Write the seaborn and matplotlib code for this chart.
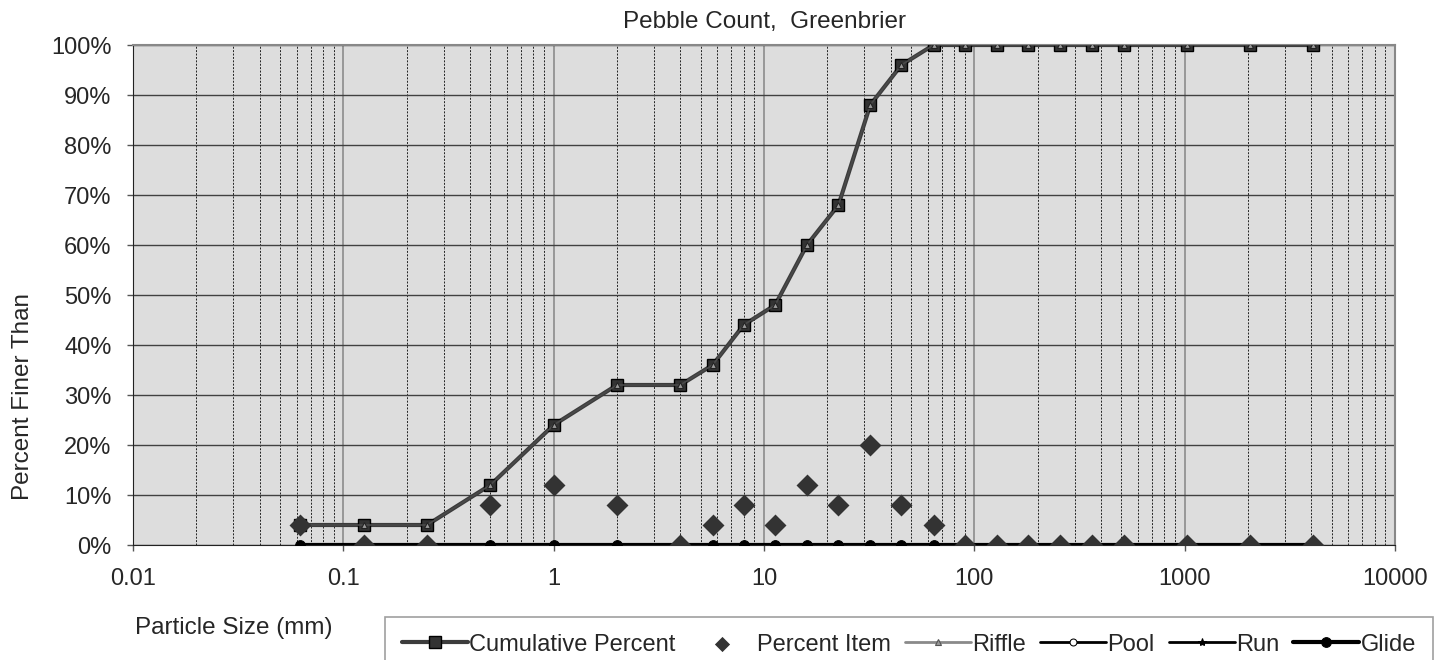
import numpy as np
import pandas as pd
import seaborn as sns
import matplotlib.pyplot as plt
from matplotlib.ticker import FuncFormatter, PercentFormatter, LogLocator, NullFormatter

# Particle sizes (mm) and pebble count results
sizes = [0.062, 0.125, 0.25, 0.5, 1, 2, 4, 5.7, 8, 11.3, 16, 22.6, 32, 45, 64,
         90, 128, 180, 256, 362, 512, 1024, 2048, 4096]
cumulative = [4, 4, 4, 12, 24, 32, 32, 36, 44, 48, 60, 68, 88, 96, 100,
              100, 100, 100, 100, 100, 100, 100, 100, 100]
percent_item = [4, 0, 0, 8, 12, 8, 0, 4, 8, 4, 12, 8, 20, 8, 4,
                0, 0, 0, 0, 0, 0, 0, 0, 0]
riffle = cumulative
pool = [0] * len(sizes)
run = [0] * len(sizes)
glide = [0] * len(sizes)

x_ticks = [0.01, 0.1, 1, 10, 100, 1000, 10000]
y_ticks = [0, 10, 20, 30, 40, 50, 60, 70, 80, 90, 100]

df = pd.DataFrame({'size': sizes, 'cum': cumulative, 'item': percent_item,
                   'riffle': riffle, 'pool': pool, 'run': run, 'glide': glide})

sns.set_style('white')
plt.rcParams['font.family'] = ['Liberation Sans', 'DejaVu Sans']
FS = 17

fig = plt.figure(figsize=(14.36, 6.6), dpi=100)
ax = fig.add_axes([133 / 1436, 1 - 545 / 660, (1395 - 133) / 1436, 500 / 660])
ax.set_facecolor('#dddddd')

# series
sns.lineplot(data=df, x='size', y='cum', ax=ax, color='#3c3c3c', lw=3, marker='s',
             markersize=9, markerfacecolor='#333333', markeredgecolor='black',
             markeredgewidth=1, label='Cumulative Percent', zorder=4)
sns.scatterplot(data=df, x='size', y='item', ax=ax, color='#333333', marker='D',
                s=125, edgecolor='#333333', linewidth=0, label='Percent Item', zorder=8)
sns.lineplot(data=df, x='size', y='riffle', ax=ax, color='#4a4a4a', lw=1.2, marker='^',
             markersize=5, markerfacecolor='#999999', markeredgecolor='#222222',
             markeredgewidth=0.8, label='Riffle', zorder=5)
sns.lineplot(data=df, x='size', y='pool', ax=ax, color='black', lw=2, marker='o',
             markersize=5, markerfacecolor='white', markeredgecolor='black',
             label='Pool', zorder=5)
sns.lineplot(data=df, x='size', y='run', ax=ax, color='black', lw=2, marker='*',
             markersize=6, markeredgecolor='black', label='Run', zorder=5)
sns.lineplot(data=df, x='size', y='glide', ax=ax, color='black', lw=3, marker='o',
             markersize=7, markerfacecolor='black', markeredgecolor='black',
             label='Glide', zorder=6)

# axes
ax.set_xscale('log')
ax.set_xlim(0.01, 10000)
ax.set_ylim(0, 100)
ax.set_xticks(x_ticks)
ax.xaxis.set_major_formatter(FuncFormatter(lambda v, p: f'{v:g}'))
ax.xaxis.set_minor_locator(LogLocator(base=10, subs=np.arange(2, 10), numticks=20))
ax.xaxis.set_minor_formatter(NullFormatter())
ax.set_yticks(y_ticks)
ax.yaxis.set_major_formatter(PercentFormatter(xmax=100, decimals=0))

ax.grid(which='major', axis='y', color='#404040', lw=1, ls='-')
ax.grid(which='major', axis='x', color='#8c8c8c', lw=1.2, ls='-')
ax.grid(which='minor', axis='x', color='#222222', lw=0.7, ls=(0, (2, 1.5)))
ax.set_axisbelow(True)

ax.tick_params(axis='both', which='major', labelsize=FS, direction='out',
               length=4.5, width=1, color='#555555', left=True, bottom=True)
ax.tick_params(axis='y', which='major', pad=11)
ax.tick_params(axis='x', which='major', pad=12)
ax.tick_params(axis='x', which='minor', length=0)

for side in ['top', 'right']:
    ax.spines[side].set_color('#888888')
    ax.spines[side].set_linewidth(1.5)
ax.spines['left'].set_color('#222222')
ax.spines['bottom'].set_color('#222222')

ax.set_xlabel('')
ax.set_ylabel('')
ax.set_title('Pebble Count,  Greenbrier', fontsize=FS + 0.5, pad=12)
fig.text(23 / 1436, 1 - 396 / 660, 'Percent Finer Than', fontsize=FS + 0.5,
         rotation=90, ha='center', va='center')
fig.text(234 / 1436, 1 - 628 / 660, 'Particle Size (mm)', fontsize=FS + 0.5,
         ha='center', va='center')

ax.legend_.remove()
handles, labels = ax.get_legend_handles_labels()
leg = fig.legend(handles, labels, loc='upper left', ncol=6,
                 bbox_to_anchor=(385 / 1436, 1 - 617 / 660), borderaxespad=0,
                 fontsize=FS, frameon=True, fancybox=False, edgecolor='#888888',
                 handlelength=2.8, handletextpad=0.05, columnspacing=0.6,
                 borderpad=0.7)
leg.get_frame().set_linewidth(1.2)
leg.legend_handles[1].set_sizes([60])
leg.legend_handles[2].set_color('#8a8a8a')
leg.legend_handles[2].set_linewidth(2)
leg.legend_handles[2].set_markeredgecolor('#555555')

fig.savefig('out.png', dpi=100)
